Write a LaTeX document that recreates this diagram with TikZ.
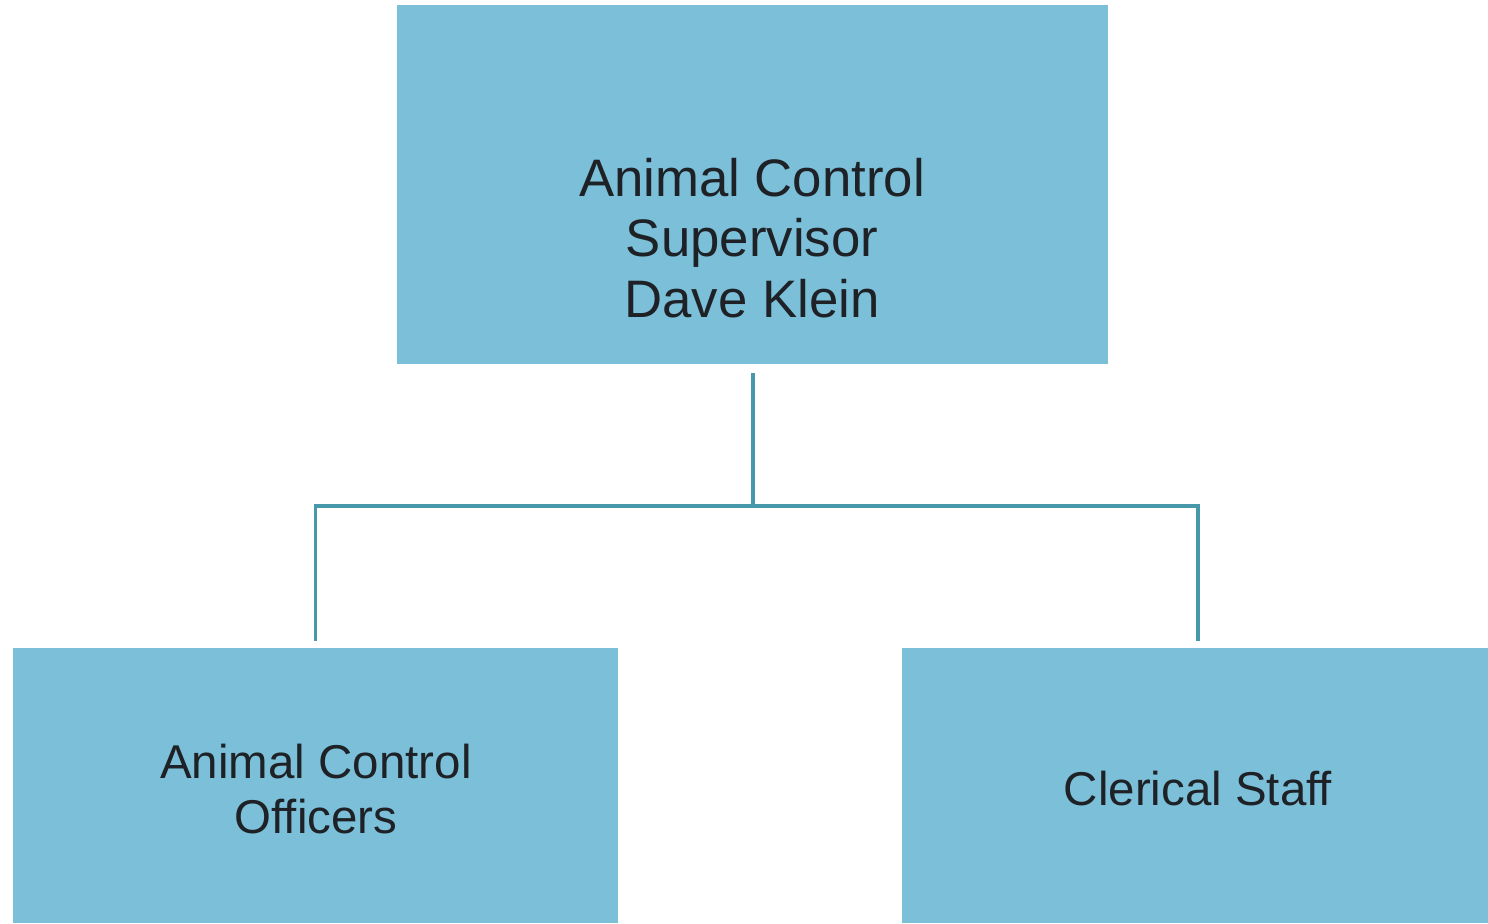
\documentclass[tikz,border=0pt]{standalone}
\usepackage{fontspec}
\setmainfont{Liberation Sans}
\usetikzlibrary{calc,positioning}
\definecolor{BoxClr}{RGB}{123,191,217}
\definecolor{LineClr}{RGB}{72,152,172}
\definecolor{TextClr}{RGB}{30,34,38}

\tikzset{
  unit/.style={rectangle,fill=BoxClr,draw=none,inner sep=0pt},
  title/.style={align=center,text=TextClr,font=\fontsize{15pt}{17.3pt}\selectfont},
  subtitle/.style={align=center,text=TextClr,font=\fontsize{13.5pt}{15.6pt}\selectfont},
  conn/.style={draw=LineClr,line width=1pt}
}

\begin{document}
\begin{tikzpicture}[x=0.01cm,y=-0.01cm]
\useasboundingbox (0,0) rectangle (1488,923);

% boxes
\node[unit,minimum width=7.11cm,minimum height=3.59cm] (Sup) at (752.5,184.5) {};
\node[unit,minimum width=6.05cm,minimum height=2.75cm] (Aco) at (315.5,785.5) {};
\node[unit,minimum width=5.86cm,minimum height=2.75cm] (Cs) at (1195,785.5) {};

% texts
\node[title] (SupTxt) at (752,238) {Animal Control\\Supervisor\\Dave Klein};
\node[subtitle] (AcoTxt) at (316,789) {Animal Control\\Officers};
\node[subtitle] (CsTxt) at (1198,789) {Clerical Staff};

% connectors
\coordinate (Bar) at (753,506);
\coordinate (SupOut) at ($(Sup.south)+(0.5,8)$);
\coordinate (AcoIn) at ($(Aco.north)+(0,-6)$);
\coordinate (CsIn) at ($(Cs.north)+(3,-6)$);
\draw[conn] (SupOut) -- (Bar);
\draw[conn] (AcoIn) |- (Bar) -| (CsIn);

\end{tikzpicture}
\end{document}
